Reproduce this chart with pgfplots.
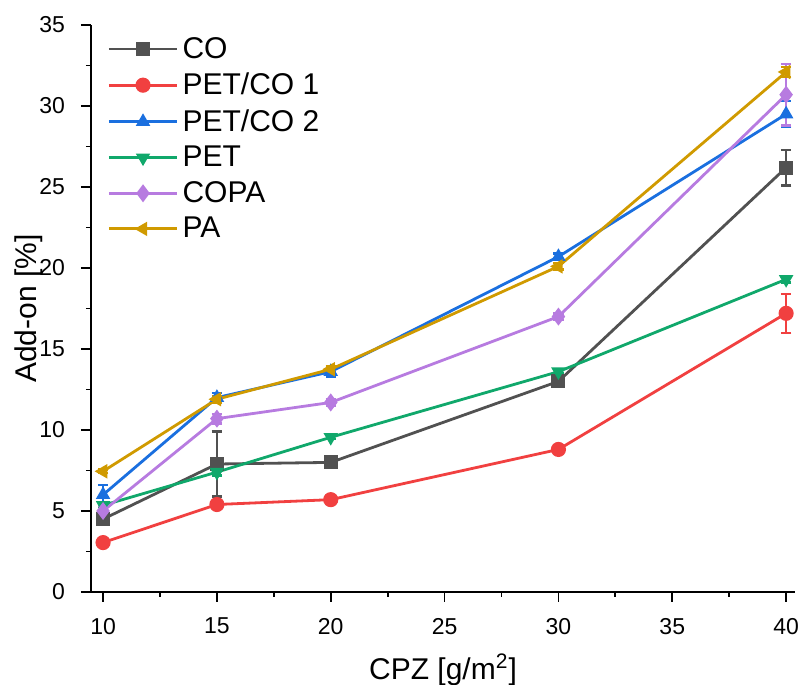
\documentclass[border=0pt]{standalone}
\usepackage{pgfplots}
\pgfplotsset{compat=1.18}
\usepackage{fontspec}
\setmainfont{Liberation Sans}
\definecolor{cCO}{HTML}{515151}
\definecolor{cP1}{HTML}{F14040}
\definecolor{cP2}{HTML}{1A6FDF}
\definecolor{cPET}{HTML}{10A86B}
\definecolor{cCOPA}{HTML}{B77BE0}
\definecolor{cPA}{HTML}{D09A00}
\begin{document}
\begin{tikzpicture}
\begin{axis}[
  scale only axis,
  width=352pt, height=283.5pt,
  xmin=9.47, xmax=40.39, ymin=0, ymax=35,
  axis lines=left,
  x axis line style={-, line width=1pt},
  y axis line style={-, line width=1pt},
  xtick={10,15,...,40}, ytick={0,5,...,35},
  minor x tick num=1, minor y tick num=1,
  tick align=outside,
  major tick length=5pt, minor tick length=2.5pt,
  tick style={black, line width=0.9pt},
  /pgf/number format/assume math mode=true,
  ticklabel style={font=\fontsize{11.5}{13}\selectfont},
  xticklabel style={yshift=-4.5pt},
  yticklabel style={xshift=-4.5pt},
  xlabel={CPZ [g/m\textsuperscript{2}]},
  ylabel={Add-on [\%]},
  label style={font=\fontsize{15}{18}\selectfont},
  xlabel style={yshift=-3pt},
  ylabel style={yshift=-8.5pt},
  legend style={draw=none, fill=none, at={(0.02,0.99)}, anchor=north west,
    font=\fontsize{15}{18}\selectfont, row sep=1.9pt, inner sep=1pt},
  legend cell align=left,
  legend image code/.code={\draw[mark repeat=2,mark phase=2] plot coordinates {(0cm,0cm)(0.6cm,0cm)(1.2cm,0cm)};},
  every axis plot/.append style={line width=1.4pt, mark size=2.8pt},
  error bars/y dir=both, error bars/y explicit,
  error bars/error mark options={rotate=90, mark size=2.6pt, line width=1.2pt},
  error bars/error bar style={line width=1.2pt},
]
\addplot[color=cCO, mark=square*, mark options={solid}] coordinates {
 (10,4.5) +- (0,0.3) (15,7.9) +- (0,2.0) (20,8.0) +- (0,0.2) (30,13.0) +- (0,0.2) (40,26.2) +- (0,1.1)};
\addlegendentry{CO}
\addplot[color=cP1, mark=*, mark options={scale=1.1}] coordinates {
 (10,3.05) +- (0,0.1) (15,5.4) +- (0,0.2) (20,5.7) +- (0,0.1) (30,8.8) +- (0,0.1) (40,17.2) +- (0,1.2)};
\addlegendentry{PET/CO 1}
\addplot[color=cP2, mark=triangle*] coordinates {
 (10,6.0) +- (0,0.6) (15,12.0) +- (0,0.3) (20,13.6) +- (0,0.3) (30,20.7) +- (0,0.2) (40,29.5) +- (0,0.8)};
\addlegendentry{PET/CO 2}
\addplot[color=cPET, mark=triangle*, mark options={rotate=180}] coordinates {
 (10,5.35) +- (0,0.1) (15,7.4) +- (0,0.2) (20,9.55) +- (0,0.1) (30,13.6) +- (0,0.1) (40,19.3) +- (0,0.2)};
\addlegendentry{PET}
\addplot[color=cCOPA, mark=diamond*, mark options={scale=1.2}] coordinates {
 (10,5.0) +- (0,0.3) (15,10.7) +- (0,0.3) (20,11.7) +- (0,0.2) (30,17.0) +- (0,0.2) (40,30.7) +- (0,1.9)};
\addlegendentry{COPA}
\addplot[color=cPA, mark=triangle*, mark options={rotate=90}] coordinates {
 (10,7.45) +- (0,0.1) (15,11.9) +- (0,0.2) (20,13.75) +- (0,0.2) (30,20.1) +- (0,0.2) (40,32.1) +- (0,0.3)};
\addlegendentry{PA}
\end{axis}
\pgfresetboundingbox
\path[use as bounding box] ([xshift=-45.5pt,yshift=-46.5pt]current axis.south west) rectangle ([xshift=1.5pt,yshift=12.5pt]current axis.north east);
\end{tikzpicture}
\end{document}
